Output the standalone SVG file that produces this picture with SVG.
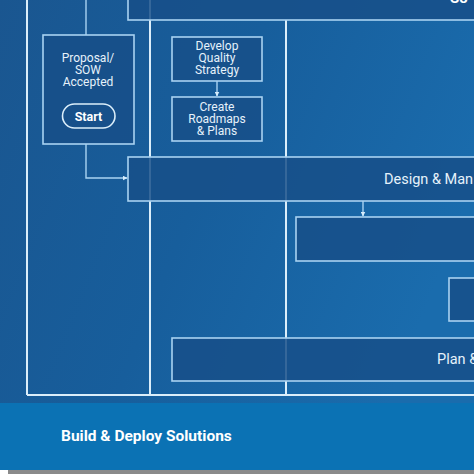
<svg xmlns="http://www.w3.org/2000/svg" width="474" height="474" viewBox="0 0 474 474">
<defs>
<linearGradient id="bg" x1="0" y1="0" x2="1" y2="0.4">
<stop offset="0" stop-color="#1a5690"/>
<stop offset="0.5" stop-color="#175e9c"/>
<stop offset="1" stop-color="#1a6cad"/>
</linearGradient>
<marker id="ah" viewBox="0 0 10 10" refX="9" refY="5" markerWidth="5" markerHeight="5" orient="auto" markerUnits="userSpaceOnUse">
<path d="M0,0 L10,5 L0,10 z" fill="#d6ecfb"/>
</marker>
<style>
.frame{fill:none;stroke:#dbeefa;stroke-width:2}
.box{fill:#174f88;fill-opacity:0.85;stroke:#a9d3f2;stroke-width:1.6}
.conn{fill:none;stroke:#a9d3f2;stroke-width:1.4}
.t{font-family:Roboto,"Liberation Sans",sans-serif;fill:#e6f2fb;font-size:12px;text-anchor:middle}
.tb{font-family:Roboto,"Liberation Sans",sans-serif;fill:#ffffff;font-weight:bold}
.tl{font-family:Roboto,"Liberation Sans",sans-serif;fill:#e6f2fb;font-size:14.5px}
</style>
</defs>
<rect x="0" y="0" width="474" height="474" fill="url(#bg)"/>
<g id="lanes">
<line class="frame" x1="27" y1="0" x2="27" y2="395"/>
<line class="frame" x1="150" y1="0" x2="150" y2="395"/>
<line class="frame" x1="286" y1="20" x2="286" y2="395"/>
<line class="frame" x1="27" y1="395" x2="474" y2="395"/>
</g>
<g id="connectors">
<line class="conn" x1="86" y1="0" x2="86" y2="35"/>
<polyline class="conn" points="86,144 86,178 127,178" marker-end="url(#ah)"/>
<line class="conn" x1="217" y1="81" x2="217" y2="96" marker-end="url(#ah)"/>
<line class="conn" x1="363" y1="201" x2="363" y2="216" marker-end="url(#ah)"/>
</g>
<g id="top-box">
<rect class="box" x="128" y="-5" width="360" height="25"/>
<text class="tb" x="450" y="3" font-size="15">So</text>
</g>
<g id="proposal">
<rect class="box" x="43" y="35" width="91" height="109"/>
<text class="t" x="88" y="62">Proposal/</text>
<text class="t" x="88" y="74">SOW</text>
<text class="t" x="88" y="86">Accepted</text>
<rect x="62.5" y="104" width="52.5" height="24" rx="12" fill="none" stroke="#dbeefa" stroke-width="1.6"/>
<text class="tb" x="88.5" y="121" font-size="12.5" text-anchor="middle">Start</text>
</g>
<g id="develop">
<rect class="box" x="172" y="37" width="90" height="44"/>
<text class="t" x="217" y="50">Develop</text>
<text class="t" x="217" y="62">Quality</text>
<text class="t" x="217" y="74">Strategy</text>
</g>
<g id="create">
<rect class="box" x="172" y="97" width="90" height="44"/>
<text class="t" x="217" y="111">Create</text>
<text class="t" x="217" y="123">Roadmaps</text>
<text class="t" x="217" y="135">&amp; Plans</text>
</g>
<g id="design">
<rect class="box" x="128" y="157" width="360" height="44"/>
<text class="tl" x="384" y="184">Design &amp; Man</text>
</g>
<g id="box2">
<rect class="box" x="296" y="217" width="190" height="44"/>
</g>
<g id="box3">
<rect class="box" x="449" y="278" width="40" height="43"/>
</g>
<g id="plan">
<rect class="box" x="172" y="338" width="316" height="43"/>
<text class="tl" x="437" y="364">Plan &amp;</text>
</g>
<g id="footer">
<rect x="0" y="403" width="474" height="67" fill="#0b72b4"/>
<text class="tb" x="61" y="441" font-size="15.5">Build &amp; Deploy Solutions</text>
<rect x="0" y="470" width="474" height="4" fill="#8a8a8a"/>
<rect x="0" y="470" width="8" height="4" fill="#ffffff"/>
</g>
</svg>
